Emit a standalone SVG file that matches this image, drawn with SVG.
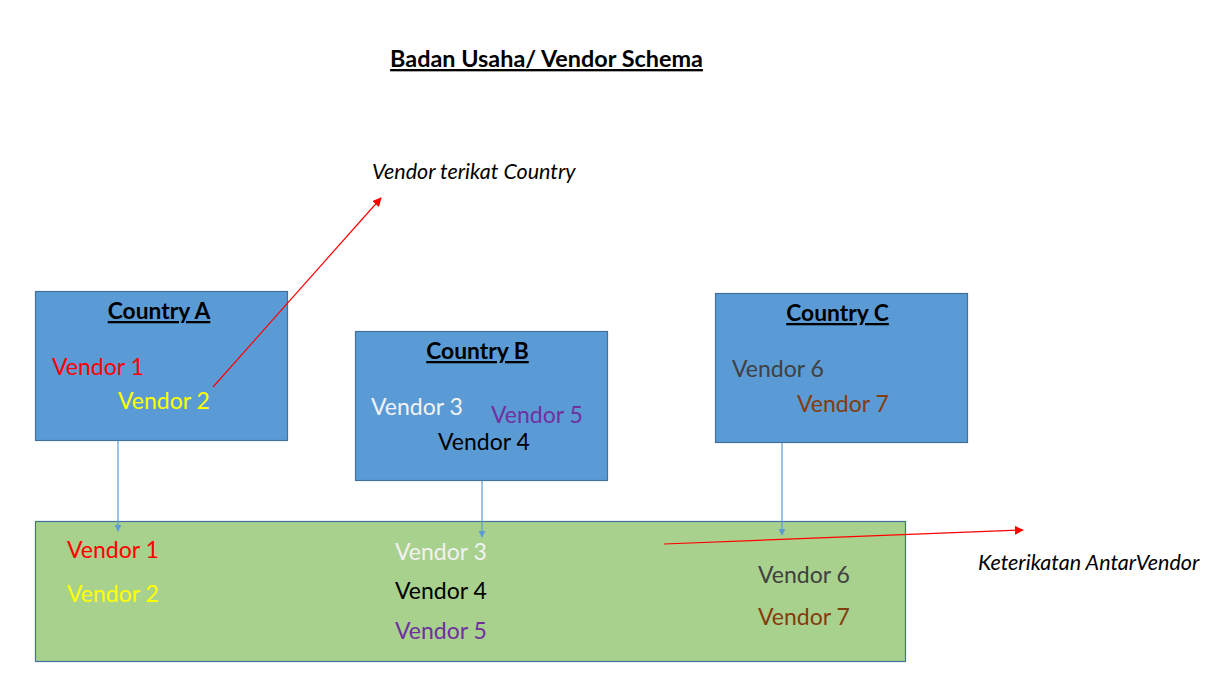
<svg xmlns="http://www.w3.org/2000/svg" width="1229" height="693" viewBox="0 0 1229 693">
<defs>
<style>
text{font-family:Lato,"Open Sans","Liberation Sans",sans-serif;}
.box{fill:#5B9BD5;stroke:#41719C;stroke-width:1.2;}
.green{fill:#A9D18E;stroke:#41719C;stroke-width:1.2;}
.hd{font-size:22.8px;font-weight:bold;text-decoration:underline;fill:#000;text-anchor:middle;}
.v{font-size:23px;}
.it{font-size:21.5px;font-style:italic;fill:#000;}
.blue{stroke:#5B9BD5;stroke-width:1.2;fill:none;}
.red{stroke:#FF0000;stroke-width:1.2;fill:none;}
</style>
<marker id="ab" viewBox="0 0 10 10" refX="9" refY="5" markerWidth="7" markerHeight="7" orient="auto" markerUnits="userSpaceOnUse"><path d="M0,0L10,5L0,10z" fill="#5B9BD5"/></marker>
<marker id="ar" viewBox="0 0 10 10" refX="9" refY="5" markerWidth="9" markerHeight="9" orient="auto" markerUnits="userSpaceOnUse"><path d="M0,0L10,5L0,10z" fill="#FF0000"/></marker>
</defs>
<rect width="1229" height="693" fill="#fff"/>
<text x="546.5" y="67" style="font-size:23.4px;font-weight:bold;text-decoration:underline;text-anchor:middle">Badan Usaha/ Vendor Schema</text>
<text class="it" x="372" y="179">Vendor terikat Country</text>
<text class="it" x="978" y="570">Keterikatan AntarVendor</text>
<g id="bottom">
<rect class="green" x="35.5" y="521.5" width="870" height="140"/>
<text class="v" x="67" y="557.5" fill="#FF0000">Vendor 1</text>
<text class="v" x="67" y="601.5" fill="#FFFF00">Vendor 2</text>
<text class="v" x="395" y="559.5" fill="#F2F2F2">Vendor 3</text>
<text class="v" x="395" y="598.5" fill="#000">Vendor 4</text>
<text class="v" x="395" y="638.5" fill="#7030A0">Vendor 5</text>
<text class="v" x="758" y="582.5" fill="#404040">Vendor 6</text>
<text class="v" x="758" y="624.5" fill="#843C0C">Vendor 7</text>
</g>
<g id="countryA">
<rect class="box" x="35.5" y="291.5" width="252" height="149"/>
<text class="hd" x="159" y="319">Country A</text>
<text class="v" x="52" y="374.5" fill="#FF0000">Vendor 1</text>
<text class="v" x="118" y="408.5" fill="#FFFF00">Vendor 2</text>
</g>
<g id="countryB">
<rect class="box" x="355.5" y="331.5" width="252" height="149"/>
<text class="hd" x="477.5" y="359">Country B</text>
<text class="v" x="371" y="414.5" fill="#F2F2F2">Vendor 3</text>
<text class="v" x="491" y="422.5" fill="#7030A0">Vendor 5</text>
<text class="v" x="438" y="449.5" fill="#000">Vendor 4</text>
</g>
<g id="countryC">
<rect class="box" x="715.5" y="293.5" width="252" height="149"/>
<text class="hd" x="837.5" y="321">Country C</text>
<text class="v" x="732" y="376.5" fill="#404040">Vendor 6</text>
<text class="v" x="797" y="411.5" fill="#843C0C">Vendor 7</text>
</g>
<g id="connectors">
<line class="blue" x1="118" y1="441" x2="118" y2="531" marker-end="url(#ab)"/>
<line class="blue" x1="482" y1="481" x2="482" y2="537" marker-end="url(#ab)"/>
<line class="blue" x1="782" y1="443" x2="782" y2="535" marker-end="url(#ab)"/>
<line class="red" x1="213" y1="387" x2="381" y2="198" marker-end="url(#ar)"/>
<line class="red" x1="664" y1="544" x2="1023" y2="530" marker-end="url(#ar)"/>
</g>
</svg>
